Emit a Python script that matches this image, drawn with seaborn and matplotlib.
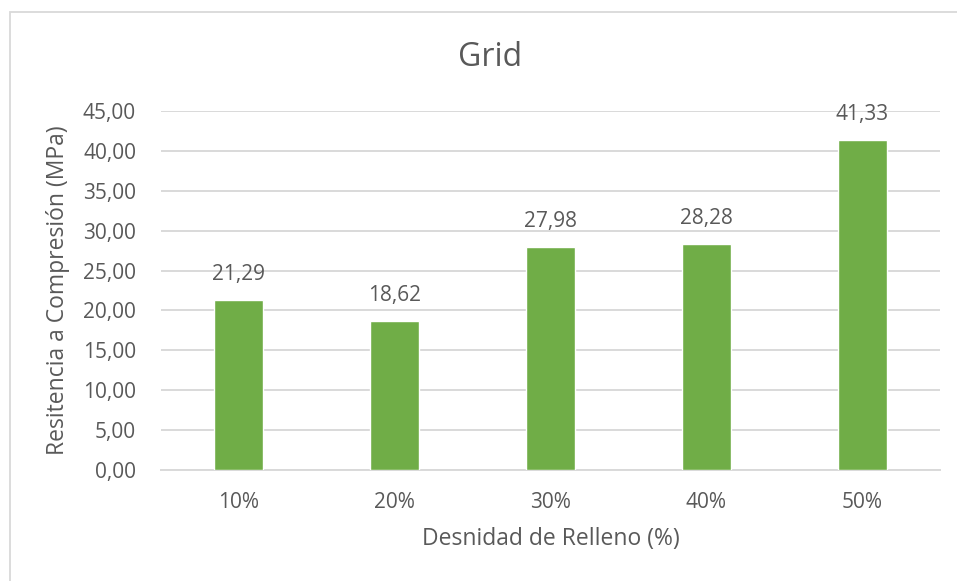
import matplotlib
matplotlib.use("Agg")
import matplotlib.pyplot as plt
import seaborn as sns
import pandas as pd
from matplotlib.patches import Rectangle

categories = ["10%", "20%", "30%", "40%", "50%"]
values = [21.29, 18.62, 27.98, 28.28, 41.33]
y_ticks = [0, 5, 10, 15, 20, 25, 30, 35, 40, 45]

sns.set_theme(style="white")
plt.rcParams["font.family"] = ["Open Sans", "DejaVu Sans"]

text_color = "#595959"
grid_color = "#D9D9D9"
bar_color = "#70AD47"

df = pd.DataFrame({"densidad": categories, "resistencia": values})

fig = plt.figure(figsize=(9.57, 5.81), dpi=100)
ax = fig.add_axes([161 / 957, 1 - 470 / 581, (940 - 161) / 957, (470 - 111) / 581])

sns.barplot(data=df, x="densidad", y="resistencia", color=bar_color,
            width=0.314, saturation=1, ax=ax, zorder=3)

ax.set_ylim(0, 45)
ax.set_xlim(-0.5, len(categories) - 0.5)
ax.set_yticks(y_ticks)
ax.set_yticklabels([f"{v:.2f}".replace(".", ",") for v in y_ticks])
ax.yaxis.grid(True, color=grid_color, linewidth=1.4, zorder=0)
ax.xaxis.grid(False)
for side in ["top", "right", "left"]:
    ax.spines[side].set_visible(False)
ax.spines["bottom"].set_color(grid_color)
ax.spines["bottom"].set_linewidth(1.4)
ax.tick_params(axis="both", length=0, labelsize=15, colors=text_color)
ax.tick_params(axis="y", pad=18)
ax.tick_params(axis="x", pad=16)

ax.set_xlabel("Desnidad de Relleno (%)", fontsize=16.5, color=text_color, labelpad=10)
ax.set_ylabel("Resitencia a Compresión (MPa)", fontsize=16.5, color=text_color, labelpad=9)

for i, v in enumerate(values):
    ax.annotate(f"{v:.2f}".replace(".", ","), (i, v), xytext=(0, 11),
                textcoords="offset points", ha="center", va="bottom",
                fontsize=15, color=text_color)

fig.text(0.512, 1 - 57 / 581, "Grid", ha="center", va="center",
         fontsize=23, color=text_color)

fig.patches.append(Rectangle((10 / 957, -0.05), 1.2, 1 - 12 / 581 + 0.05,
                             transform=fig.transFigure, fill=False,
                             edgecolor="#D9D9D9", linewidth=1.3))

fig.savefig("out.png", dpi=100, facecolor="white")
